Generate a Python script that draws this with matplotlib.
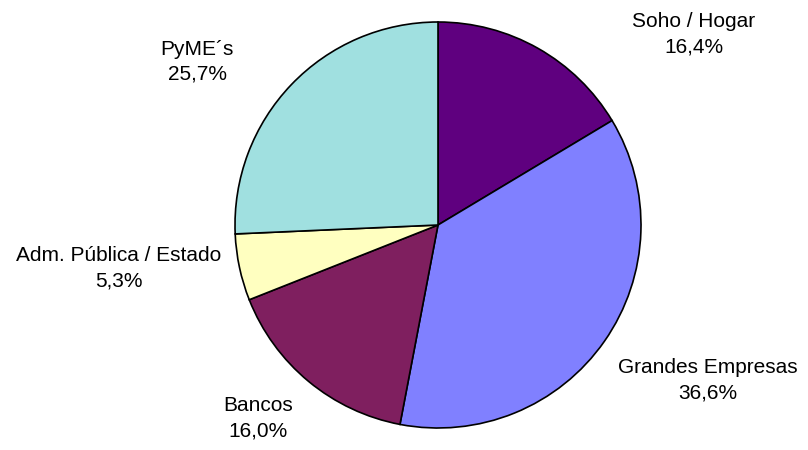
import matplotlib.pyplot as plt

plt.rcParams['font.family'] = ['Liberation Sans', 'DejaVu Sans']

# datos del gráfico
segmentos = ['Soho / Hogar', 'Grandes Empresas', 'Bancos', 'Adm. Pública / Estado', 'PyME´s']
porcentajes = [16.4, 36.6, 16.0, 5.3, 25.7]
colores = ['#5F007F', '#8080FF', '#7F1F5F', '#FFFFC0', '#A0E0E0']

# posición de cada etiqueta (en radios desde el centro)
pos_etiquetas = [(1.26, 0.94), (1.33, -0.764), (-0.887, -0.951), (-1.571, -0.212), (-1.187, 0.803)]

fig = plt.figure(figsize=(8.08, 4.5), dpi=100)
ax = fig.add_axes([0, 0, 1, 1])

ax.pie(porcentajes, colors=colores, startangle=90, counterclock=False,
       radius=1.0, center=(0, 0),
       wedgeprops={'edgecolor': 'black', 'linewidth': 1.2})

for nombre, valor, (x, y) in zip(segmentos, porcentajes, pos_etiquetas):
    texto = f'{nombre}\n' + f'{valor:.1f}%'.replace('.', ',')
    ax.text(x, y, texto, ha='center', va='center', fontsize=15, linespacing=1.4)

# centro del pastel en (438, 225) px, radio ~203 px
R = 203.0
ax.set_xlim(-438 / R, (808 - 438) / R)
ax.set_ylim(-225 / R, 225 / R)
ax.set_aspect('auto')
ax.axis('off')

fig.savefig('out.png', dpi=100)
